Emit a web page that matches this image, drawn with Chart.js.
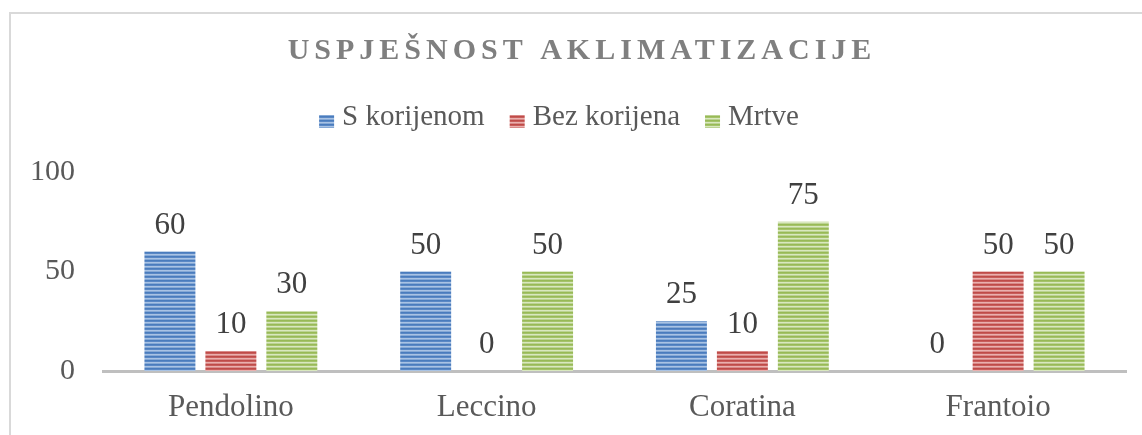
<!DOCTYPE html>
<html>
<head>
<meta charset="utf-8">
<script src="https://cdn.jsdelivr.net/npm/chart.js@4.4.1/dist/chart.umd.min.js"></script>
<style>
  html, body { margin: 0; padding: 0; background: #fff; }
  #wrap { width: 1142px; height: 435px; position: relative; }
</style>
</head>
<body>
<div id="wrap"><canvas id="acclimChart"></canvas></div>
<script>
const chartTitle = 'USPJEŠNOST AKLIMATIZACIJE';
const varieties = ['Pendolino', 'Leccino', 'Coratina', 'Frantoio'];
const withRoots = [60, 50, 25, 0];
const withoutRoots = [10, 0, 10, 50];
const dead = [30, 50, 75, 50];
const yTicks = [0, 50, 100];

const SERIF = '"Liberation Serif", "Times New Roman", serif';
Chart.defaults.font.family = SERIF;

// horizontal striped fill like the office "wide horizontal" pattern
const stripes = (rows) => {
  const c = document.createElement('canvas');
  c.width = 8;
  c.height = rows.length;
  const cx = c.getContext('2d');
  rows.forEach((col, i) => {
    cx.fillStyle = col;
    cx.fillRect(0, i, 8, 1);
  });
  return cx.createPattern(c, 'repeat');
};

const bluePat = stripes(['#4a7cbd', '#5a88c5', '#a9c3e4', '#86a9d6']);
const redPat = stripes(['#bf4b48', '#c85e5b', '#eab0ae', '#d98a88']);
const greenPat = stripes(['#98ba56', '#a5c36a', '#d9e8bf', '#bcd393']);

// light frame round the chart (only top and left edges are visible)
const framePlugin = {
  id: 'frame',
  beforeDraw(chart) {
    const ctx = chart.ctx;
    ctx.save();
    ctx.strokeStyle = '#d9d9d9';
    ctx.lineWidth = 2;
    ctx.strokeRect(10, 13, 1400, 600);
    ctx.restore();
  }
};

// spaced-out title, drawn by hand because of the letter spacing
const titlePlugin = {
  id: 'spacedTitle',
  afterDraw(chart) {
    const ctx = chart.ctx;
    ctx.save();
    ctx.font = 'bold 30px ' + SERIF;
    ctx.fillStyle = '#7f7f7f';
    ctx.letterSpacing = '5px';
    ctx.textAlign = 'center';
    ctx.textBaseline = 'alphabetic';
    ctx.fillText(chartTitle, 582, 59);
    ctx.restore();
  }
};

// legend drawn by hand so the gaps match the office look
const legendPlugin = {
  id: 'officeLegend',
  afterDraw(chart) {
    const ctx = chart.ctx;
    ctx.save();
    ctx.font = '29px ' + SERIF;
    ctx.textBaseline = 'alphabetic';
    ctx.textAlign = 'left';
    const items = chart.data.datasets.map(ds => ({ text: ds.label, fill: ds.backgroundColor, w: ctx.measureText(ds.label).width }));
    const box = 15, gap = 8, between = 25;
    let total = items.reduce((s, it) => s + box + gap + it.w, 0) + between * (items.length - 1);
    let x = 559 - total / 2;
    items.forEach(it => {
      ctx.fillStyle = it.fill;
      ctx.fillRect(x, 115, box, 13);
      ctx.fillStyle = '#595959';
      ctx.fillText(it.text, x + box + gap, 125);
      x += box + gap + it.w + between;
    });
    ctx.restore();
  }
};

const valueLabels = {
  id: 'valueLabels',
  afterDatasetsDraw(chart) {
    const ctx = chart.ctx;
    ctx.save();
    ctx.font = '31px ' + SERIF;
    ctx.fillStyle = '#404040';
    ctx.textAlign = 'center';
    ctx.textBaseline = 'alphabetic';
    chart.data.datasets.forEach((ds, i) => {
      chart.getDatasetMeta(i).data.forEach((bar, j) => {
        ctx.fillText(ds.data[j], bar.x, bar.y - 18);
      });
    });
    ctx.restore();
  }
};

new Chart(document.getElementById('acclimChart'), {
  type: 'bar',
  data: {
    labels: varieties,
    datasets: [
      { label: 'S korijenom', data: withRoots, backgroundColor: bluePat },
      { label: 'Bez korijena', data: withoutRoots, backgroundColor: redPat },
      { label: 'Mrtve', data: dead, backgroundColor: greenPat }
    ]
  },
  options: {
    responsive: true,
    maintainAspectRatio: false,
    animation: false,
    devicePixelRatio: 1,
    categoryPercentage: 0.715,
    barPercentage: 0.836,
    layout: { padding: { top: 172, right: 16, left: 0, bottom: 0 } },
    scales: {
      x: {
        grid: { display: false, drawTicks: false },
        border: { display: true, color: '#bfbfbf', width: 3 },
        ticks: {
          color: '#595959',
          padding: 18,
          font: { family: SERIF, size: 31 }
        },
        afterFit: (scale) => { scale.height = 64; }
      },
      y: {
        min: 0,
        max: 100,
        grid: { display: false, drawTicks: false },
        border: { display: false },
        afterBuildTicks: (scale) => { scale.ticks = yTicks.map(v => ({ value: v })); },
        ticks: {
          color: '#595959',
          padding: 28,
          font: { family: SERIF, size: 30 }
        },
        afterFit: (scale) => { scale.width = 103; }
      }
    },
    plugins: {
      title: { display: false },
      tooltip: { enabled: false },
      legend: { display: false }
    }
  },
  plugins: [framePlugin, titlePlugin, legendPlugin, valueLabels]
});
</script>
</body>
</html>
